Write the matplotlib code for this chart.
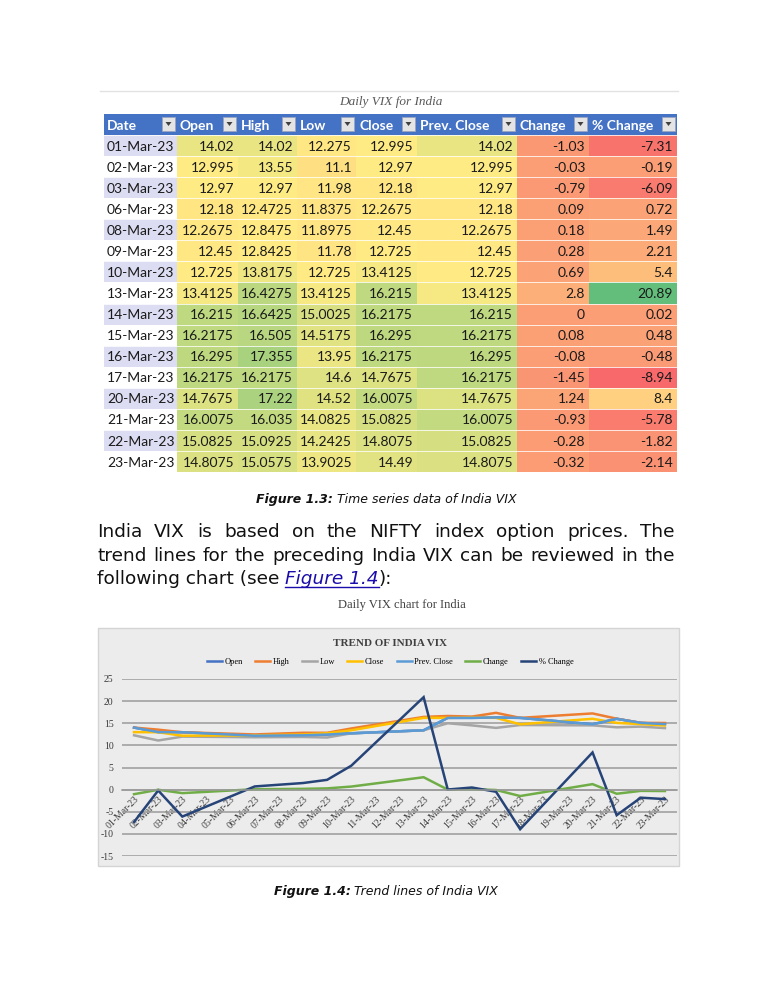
import numpy as np
import pandas as pd
import matplotlib
matplotlib.use('Agg')
import matplotlib.pyplot as plt
import matplotlib.dates as mdates
from matplotlib.patches import Rectangle

dates = ['01-Mar-23', '02-Mar-23', '03-Mar-23', '06-Mar-23', '08-Mar-23', '09-Mar-23',
         '10-Mar-23', '13-Mar-23', '14-Mar-23', '15-Mar-23', '16-Mar-23', '17-Mar-23',
         '20-Mar-23', '21-Mar-23', '22-Mar-23', '23-Mar-23']
open_ = [14.02, 12.995, 12.97, 12.18, 12.2675, 12.45, 12.725, 13.4125, 16.215, 16.2175,
         16.295, 16.2175, 14.7675, 16.0075, 15.0825, 14.8075]
high = [14.02, 13.55, 12.97, 12.4725, 12.8475, 12.8425, 13.8175, 16.4275, 16.6425, 16.505,
        17.355, 16.2175, 17.22, 16.035, 15.0925, 15.0575]
low = [12.275, 11.1, 11.98, 11.8375, 11.8975, 11.78, 12.725, 13.4125, 15.0025, 14.5175,
       13.95, 14.6, 14.52, 14.0825, 14.2425, 13.9025]
close = [12.995, 12.97, 12.18, 12.2675, 12.45, 12.725, 13.4125, 16.215, 16.2175, 16.295,
         16.2175, 14.7675, 16.0075, 15.0825, 14.8075, 14.49]
prev_close = [14.02, 12.995, 12.97, 12.18, 12.2675, 12.45, 12.725, 13.4125, 16.215, 16.2175,
              16.295, 16.2175, 14.7675, 16.0075, 15.0825, 14.8075]
change = [-1.03, -0.03, -0.79, 0.09, 0.18, 0.28, 0.69, 2.8, 0, 0.08, -0.08, -1.45, 1.24,
          -0.93, -0.28, -0.32]
pct_change = [-7.31, -0.19, -6.09, 0.72, 1.49, 2.21, 5.4, 20.89, 0.02, 0.48, -0.48, -8.94,
              8.4, -5.78, -1.82, -2.14]

series_names = ['Open', 'High', 'Low', 'Close', 'Prev. Close', 'Change', '% Change']
series = [open_, high, low, close, prev_close, change, pct_change]
series_colors = ['#4472C4', '#ED7D31', '#A5A5A5', '#FFC000', '#5B9BD5', '#70AD47', '#264478']

plt.rcParams['axes.unicode_minus'] = False

W, H = 772, 1000
fig = plt.figure(figsize=(W / 100, H / 100), dpi=100)
fig.patch.set_facecolor('white')
page = fig.add_axes([0, 0, 1, 1])
page.set_xlim(0, W)
page.set_ylim(H, 0)
page.axis('off')

# ---------- table (Figure 1.3) ----------
col_edges = [104, 177, 238, 297, 356, 417, 517, 589, 677]
head_top, head_h = 114, 21
row_h = 21.07
tfont = 'Lato'

page.plot([100, 678], [91, 91], color='#E2E2E2', lw=1)
page.text(391, 102, 'Daily VIX for India', ha='center', va='center', style='italic',
          family='Liberation Serif', fontsize=9.5, color='#595959')

page.add_patch(Rectangle((col_edges[0], head_top), col_edges[-1] - col_edges[0], head_h,
                         fc='#4472C4', ec='none'))
for i, name in enumerate(['Date'] + series_names):
    x0, x1 = col_edges[i], col_edges[i + 1]
    page.text(x0 + 3, head_top + head_h / 2 + 1, name, ha='left', va='center', color='white',
              fontweight='bold', family=tfont, fontsize=10)
    bx = x1 - 15
    page.add_patch(Rectangle((bx, head_top + 3), 13, 14, fc='#E4E4E4', ec='#9AA6C0', lw=0.6))
    page.fill([bx + 3.5, bx + 9.5, bx + 6.5], [head_top + 8, head_top + 8, head_top + 12],
              color='#404040', lw=0)

allvals = np.array(series).ravel()
vmin, vmid, vmax = allvals.min(), np.percentile(allvals, 50), allvals.max()
red = np.array([248, 105, 107]) / 255
yel = np.array([255, 235, 132]) / 255
grn = np.array([99, 190, 123]) / 255


def scale_color(v):
    if v <= vmid:
        t = (v - vmin) / (vmid - vmin)
        return red + t * (yel - red)
    t = (v - vmid) / (vmax - vmid)
    return yel + t * (grn - yel)


body_top = head_top + head_h
for r, d in enumerate(dates):
    y0 = body_top + r * row_h
    page.add_patch(Rectangle((col_edges[0], y0), col_edges[1] - col_edges[0], row_h,
                             fc='#DCDDF2' if r % 2 == 0 else 'white', ec='none'))
    page.text(col_edges[0] + 3, y0 + row_h / 2 + 1, d, ha='left', va='center',
              family=tfont, fontsize=10, color='#1A1A1A')
    for c, vals in enumerate(series):
        x0, x1 = col_edges[c + 1], col_edges[c + 2]
        v = vals[r]
        page.add_patch(Rectangle((x0, y0), x1 - x0, row_h, fc=scale_color(v), ec='none'))
        page.text(x1 - 4, y0 + row_h / 2 + 1, f'{v:g}', ha='right', va='center',
                  family=tfont, fontsize=10, color='#1A1A1A')
    page.plot([col_edges[0], col_edges[-1]], [y0, y0], color='white', lw=0.7, alpha=0.8)

# ---------- captions and paragraph ----------
renderer = fig.canvas.get_renderer()


def caption(bold, rest, xc, y, size):
    t1 = page.text(0, y, bold, fontweight='bold', style='italic', fontsize=size,
                   family='DejaVu Sans', va='baseline', color='#111111')
    t2 = page.text(0, y, rest, style='italic', fontsize=size, family='DejaVu Sans',
                   va='baseline', color='#111111')
    w1 = t1.get_window_extent(renderer).width
    w2 = t2.get_window_extent(renderer).width
    x0 = xc - (w1 + w2) / 2
    t1.set_x(x0)
    t2.set_x(x0 + w1)


caption('Figure 1.3:', ' Time series data of India VIX', 386, 503, 9)

psize = 13.3
x_left, x_right = 97, 675


def justify(line, y):
    words = line.split()
    texts = [page.text(0, y, w, fontsize=psize, family='DejaVu Sans', va='baseline',
                       color='#111111') for w in words]
    widths = [t.get_window_extent(renderer).width for t in texts]
    gap = (x_right - x_left - sum(widths)) / (len(words) - 1)
    x = x_left
    for t, w in zip(texts, widths):
        t.set_x(x)
        x += w + gap


justify('India VIX is based on the NIFTY index option prices. The', 537)
justify('trend lines for the preceding India VIX can be reviewed in the', 561)
parts = [('following chart (see ', 'normal', '#111111'), ('Figure 1.4', 'italic', '#1A0DAB'),
         ('):', 'normal', '#111111')]
x = x_left
for s, st, col in parts:
    t = page.text(x, 584, s, fontsize=psize, family='DejaVu Sans', style=st, color=col,
                  va='baseline')
    w = t.get_window_extent(renderer).width
    if st == 'italic':
        page.plot([x, x + w], [587, 587], color=col, lw=1)
    x += w

page.text(402, 605, 'Daily VIX chart for India', ha='center', va='center',
          family='Liberation Serif', fontsize=9, color='#404040')

# ---------- chart (Figure 1.4) ----------
page.add_patch(Rectangle((98, 628), 581, 238, fc='#ECECEC', ec='#D4D4D4', lw=1))
page.text(390, 643, 'TREND OF INDIA VIX', ha='center', va='center', fontweight='bold',
          family='Liberation Serif', fontsize=8, color='#404040')

ax = fig.add_axes([122 / W, 1 - 856 / H, (677 - 122) / W, (856 - 679) / H])
ax.set_facecolor('none')
dt = pd.to_datetime(dates, format='%d-%b-%y')
for name, vals, col in zip(series_names, series, series_colors):
    ax.plot(dt, vals, color=col, lw=1.8, label=name, solid_joinstyle='miter')

ax.set_ylim(-15, 25)
ax.set_yticks(range(-15, 30, 5))
ax.set_xlim(pd.Timestamp('2023-02-28 12:00'), pd.Timestamp('2023-03-23 12:00'))
ax.xaxis.set_major_locator(mdates.DayLocator())
ax.xaxis.set_major_formatter(mdates.DateFormatter('%d-%b-%y'))
ax.grid(axis='y', color='#9A9A9A', lw=1.1)
ax.set_axisbelow(True)
for s in ['left', 'right', 'top']:
    ax.spines[s].set_visible(False)
ax.spines['bottom'].set_position(('data', 0))
ax.spines['bottom'].set_color('#9A9A9A')
ax.spines['bottom'].set_linewidth(1.1)
ax.tick_params(axis='both', length=0, labelsize=7, labelcolor='#3A3A3A')
ax.tick_params(axis='y', pad=6)
for lab in ax.get_yticklabels():
    lab.set_family('Liberation Serif')
for lab in ax.get_xticklabels():
    lab.set_family('Liberation Serif')
    lab.set_rotation(45)
    lab.set_ha('right')
    lab.set_rotation_mode('anchor')

fig.legend(*ax.get_legend_handles_labels(), loc='center', bbox_to_anchor=(390 / W, 1 - 662 / H),
           ncol=7, frameon=False, handlelength=1.8, handletextpad=0.3, columnspacing=1.5,
           prop={'family': 'Liberation Serif', 'size': 6})

caption('Figure 1.4:', ' Trend lines of India VIX', 386, 895, 9)

fig.savefig('out.png', dpi=100)
